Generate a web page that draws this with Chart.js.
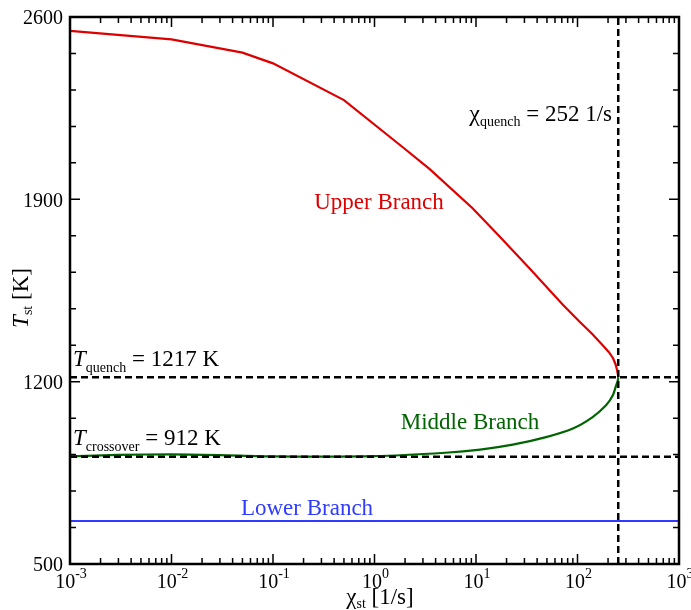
<!DOCTYPE html>
<html>
<head>
<meta charset="utf-8">
<script src="https://cdn.jsdelivr.net/npm/chart.js@4.4.1/dist/chart.umd.min.js"></script>
<style>
  html, body { margin: 0; padding: 0; background: #fff; }
  #wrap { width: 691px; height: 610px; }
</style>
</head>
<body>
<div id="wrap"><canvas id="chart"></canvas></div>
<script>
// S-curve data
const upperChi = [0.001, 0.01, 0.05, 0.1, 0.5, 1.9, 3.5, 9.25, 17, 33.6, 71, 105, 139, 177, 204, 224, 237, 245, 250, 252];
const upperT   = [2547, 2514, 2463, 2422, 2281, 2100, 2016, 1866, 1758, 1635, 1497, 1430, 1384, 1340, 1313, 1290, 1267, 1246, 1228, 1217];

const middleChi = [0.001, 0.003, 0.01, 0.03, 0.1, 1, 5, 11, 23, 49, 90, 141, 191, 223, 240, 249, 252];
const middleT   = [913, 919, 921, 918, 913, 914, 927, 939, 958, 987, 1020, 1064, 1109, 1148, 1185, 1203, 1217];

const lowerChi = [0.001, 1, 1000];
const lowerT   = [665, 665, 665];

const chiQuench = 252;
const tQuench = 1217;
const tCrossover = 912;

const xTickExps = [-3, -2, -1, 0, 1, 2, 3];
const yTicks = [500, 1200, 1900, 2600];
const yMinorStep = 140;

const SERIF = '"Liberation Serif", "Times New Roman", serif';
const RED = '#dd0000';
const GREEN = '#006400';
const BLUE = '#2f3cff';

function pts(xs, ys) { return xs.map((x, i) => ({ x: x, y: ys[i] })); }

// draw a run of text pieces: [text, size, italic, dy]
function rich(ctx, parts, x, y, align, color) {
  ctx.save();
  ctx.fillStyle = color || '#000';
  ctx.textBaseline = 'alphabetic';
  ctx.textAlign = 'left';
  let w = 0;
  parts.forEach(p => {
    ctx.font = (p[2] ? 'italic ' : '') + p[1] + 'px ' + SERIF;
    w += ctx.measureText(p[0]).width;
  });
  let cx = x;
  if (align === 'center') cx = x - w / 2;
  if (align === 'right') cx = x - w;
  parts.forEach(p => {
    ctx.font = (p[2] ? 'italic ' : '') + p[1] + 'px ' + SERIF;
    ctx.fillText(p[0], cx, y + (p[3] || 0));
    cx += ctx.measureText(p[0]).width;
  });
  ctx.restore();
}

const frame = {
  id: 'frame',
  afterDraw(chart) {
    const ctx = chart.ctx, a = chart.chartArea;
    const xs = chart.scales.x, ys = chart.scales.y;
    ctx.save();
    ctx.strokeStyle = '#000';
    ctx.lineWidth = 1.5;
    ctx.beginPath();
    // x ticks, bottom and top, pointing in
    xTickExps.forEach(e => {
      const px = xs.getPixelForValue(Math.pow(10, e));
      ctx.moveTo(px, a.bottom); ctx.lineTo(px, a.bottom - 10);
      ctx.moveTo(px, a.top); ctx.lineTo(px, a.top + 10);
      if (e < 3) {
        for (let k = 2; k <= 9; k++) {
          const pm = xs.getPixelForValue(k * Math.pow(10, e));
          ctx.moveTo(pm, a.bottom); ctx.lineTo(pm, a.bottom - 6);
          ctx.moveTo(pm, a.top); ctx.lineTo(pm, a.top + 6);
        }
      }
    });
    // y ticks, left and right
    for (let v = yTicks[0]; v <= yTicks[yTicks.length - 1]; v += yMinorStep) {
      const py = ys.getPixelForValue(v);
      const len = yTicks.includes(v) ? 10 : 6;
      ctx.moveTo(a.left, py); ctx.lineTo(a.left + len, py);
      ctx.moveTo(a.right, py); ctx.lineTo(a.right - len, py);
    }
    ctx.stroke();
    ctx.lineWidth = 2.5;
    ctx.strokeRect(a.left, a.top, a.right - a.left, a.bottom - a.top);
    ctx.restore();

    // tick labels
    xTickExps.forEach(e => {
      const px = xs.getPixelForValue(Math.pow(10, e));
      rich(ctx, [['10', 20, false, 0], [String(e), 14, false, -10]], px + 1, a.bottom + 24, 'center');
    });
    ctx.save();
    ctx.font = '20px ' + SERIF;
    ctx.fillStyle = '#000';
    ctx.textAlign = 'right';
    ctx.textBaseline = 'middle';
    yTicks.forEach(v => ctx.fillText(String(v), a.left - 7, ys.getPixelForValue(v) + 2));
    ctx.restore();

    // axis titles
    rich(ctx, [['\u03c7', 23, false, 0], ['st', 14, false, 4], [' [1/s]', 23, false, 0]], 380, 604, 'center');
    ctx.save();
    ctx.translate(28, 298);
    ctx.rotate(-Math.PI / 2);
    rich(ctx, [['T', 23, true, 0], ['st', 14, false, 4], [' [K]', 23, false, 0]], 0, 0, 'center');
    ctx.restore();

    // annotations
    rich(ctx, [['T', 23, true, 0], ['quench', 14, false, 6], [' = 1217 K', 23, false, 0]], 73, 366, 'left');
    rich(ctx, [['T', 23, true, 0], ['crossover', 14, false, 6], [' = 912 K', 23, false, 0]], 73, 445, 'left');
    rich(ctx, [['\u03c7', 24, false, 0], ['quench', 14, false, 5], [' = 252 1/s', 23, false, 0]], 612, 121, 'right');
    rich(ctx, [['Upper Branch', 23, false, 0]], 379, 209, 'center', RED);
    rich(ctx, [['Middle Branch', 23, false, 0]], 470, 429, 'center', GREEN);
    rich(ctx, [['Lower Branch', 23, false, 0]], 307, 515, 'center', BLUE);
  }
};

const dashStyle = { borderColor: '#000', borderWidth: 2.5, borderDash: [7, 4], pointRadius: 0, fill: false, order: 0 };

new Chart(document.getElementById('chart'), {
  type: 'line',
  data: {
    datasets: [
      Object.assign({ label: 'T quench', data: pts([0.001, 1000], [tQuench, tQuench]) }, dashStyle),
      Object.assign({ label: 'T crossover', data: pts([0.001, 1000], [tCrossover, tCrossover]) }, dashStyle),
      Object.assign({ label: 'chi quench', data: pts([chiQuench, chiQuench], [yTicks[0], yTicks[3]]) }, dashStyle),
      { label: 'Upper Branch', data: pts(upperChi, upperT), borderColor: RED, borderWidth: 2.2, pointRadius: 0, tension: 0, order: 1 },
      { label: 'Middle Branch', data: pts(middleChi, middleT), borderColor: GREEN, borderWidth: 2.2, pointRadius: 0, tension: 0.25, order: 1 },
      { label: 'Lower Branch', data: pts(lowerChi, lowerT), borderColor: BLUE, borderWidth: 2.2, pointRadius: 0, tension: 0, order: 1 }
    ]
  },
  options: {
    responsive: true,
    maintainAspectRatio: false,
    animation: false,
    devicePixelRatio: 1,
    layout: { padding: { left: 70, right: 12, top: 17, bottom: 46 } },
    plugins: { legend: { display: false }, tooltip: { enabled: false } },
    scales: {
      x: { type: 'logarithmic', min: 0.001, max: 1000, display: false },
      y: { type: 'linear', min: 500, max: 2600, display: false }
    }
  },
  plugins: [frame]
});
</script>
</body>
</html>
